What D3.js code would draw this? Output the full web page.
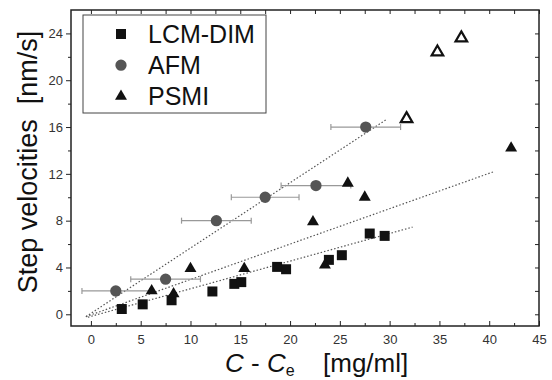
<!DOCTYPE html>
<html>
<head>
<meta charset="utf-8">
<script src="https://cdn.jsdelivr.net/npm/d3@7/dist/d3.min.js"></script>
<style>
  body { margin: 0; background: #fff; }
  svg { display: block; }
</style>
</head>
<body>
<div class="chart"></div>
<script>
// data
var lcmX = [3.1, 5.2, 8.1, 12.2, 14.4, 15.1, 18.7, 19.6, 23.9, 25.2, 28.0, 29.5],
    lcmY = [0.45, 0.85, 1.2, 1.95, 2.6, 2.75, 4.05, 3.85, 4.65, 5.05, 6.9, 6.7];

var afmX = [2.5, 7.5, 12.6, 17.5, 22.6, 27.6],
    afmY = [2, 3, 8, 10, 11, 16],
    afmErr = [3.4, 3.5, 3.5, 3.4, 3.5, 3.5];

var psmiX = [6.1, 8.3, 10.0, 15.4, 22.3, 23.5, 25.8, 27.5, 42.2],
    psmiY = [2.0, 1.75, 3.9, 3.9, 7.9, 4.2, 11.2, 10.0, 14.2];

var openX = [31.7, 34.8, 37.2],
    openY = [16.7, 22.4, 23.6];

// dotted linear fits, end points
var fitAfm = [[-0.5, -0.2], [29.6, 16.6]],
    fitPsmi = [[-0.5, -0.2], [40.5, 12.2]],
    fitLcm = [[-0.3, -0.25], [32.3, 7.45]];

var xMajor = [0, 5, 10, 15, 20, 25, 30, 35, 40, 45],
    yMajor = [0, 4, 8, 12, 16, 20, 24];

var legendNames = ["LCM-DIM", "AFM", "PSMI"];

var width = 552, height = 380,
    margin = {top: 10, right: 13, bottom: 54, left: 71},
    font = "'Liberation Sans', Arial, sans-serif";

var svg = d3.select(".chart").append("svg")
    .attr("width", width)
    .attr("height", height)
    .style("font-family", font);

var x = d3.scaleLinear().domain([-2, 45]).range([margin.left, width - margin.right]);
var y = d3.scaleLinear().domain([-1, 26]).range([height - margin.bottom, margin.top]);

var minorX = d3.range(-2.5, 45.1, 2.5).filter(function(d) { return d > -2 && xMajor.indexOf(d) < 0; });
var minorY = d3.range(-2, 26, 2).filter(function(d) { return d > -1 && yMajor.indexOf(d) < 0; });

// axes
var bottom = svg.append("g")
    .attr("transform", "translate(0," + y.range()[0] + ")")
    .call(d3.axisBottom(x).tickValues(xMajor).tickSize(-5).tickPadding(9));
svg.append("g")
    .attr("transform", "translate(0," + y.range()[0] + ")")
    .call(d3.axisBottom(x).tickValues(minorX).tickSize(-3).tickFormat(""));
svg.append("g")
    .attr("transform", "translate(0," + y.range()[1] + ")")
    .call(d3.axisTop(x).tickValues(xMajor.concat(minorX)).tickSize(-4).tickFormat(""));

var left = svg.append("g")
    .attr("transform", "translate(" + x.range()[0] + ",0)")
    .call(d3.axisLeft(y).tickValues(yMajor).tickSize(5).tickPadding(3));
svg.append("g")
    .attr("transform", "translate(" + x.range()[0] + ",0)")
    .call(d3.axisLeft(y).tickValues(minorY).tickSize(3).tickFormat(""));
svg.append("g")
    .attr("transform", "translate(" + x.range()[1] + ",0)")
    .call(d3.axisRight(y).tickValues(yMajor.concat(minorY)).tickSize(-4).tickFormat(""));

svg.selectAll(".domain").remove();
svg.selectAll(".tick line").attr("stroke", "#222").attr("stroke-width", 1);
svg.selectAll(".tick text")
    .attr("font-family", font)
    .attr("font-size", "13px")
    .attr("fill", "#333");

// frame
svg.append("rect")
    .attr("x", x.range()[0])
    .attr("y", y.range()[1])
    .attr("width", x.range()[1] - x.range()[0])
    .attr("height", y.range()[0] - y.range()[1])
    .attr("fill", "none")
    .attr("stroke", "#222")
    .attr("stroke-width", 1.5);

// fits
var line = d3.line().x(function(d) { return x(d[0]); }).y(function(d) { return y(d[1]); });
svg.append("g").selectAll("path")
    .data([fitAfm, fitPsmi, fitLcm])
    .enter()
    .append("path")
    .attr("d", line)
    .attr("fill", "none")
    .attr("stroke", "#555")
    .attr("stroke-width", 1.2)
    .attr("stroke-dasharray", "1.5,2");

// AFM error bars
var errs = svg.append("g").attr("stroke", "#999").attr("stroke-width", 1.2);
afmX.forEach(function(d, i) {
  var y0 = y(afmY[i]), x1 = x(d - afmErr[i]), x2 = x(d + afmErr[i]);
  errs.append("line").attr("x1", x1).attr("x2", x2).attr("y1", y0).attr("y2", y0);
  errs.append("line").attr("x1", x1).attr("x2", x1).attr("y1", y0 - 3).attr("y2", y0 + 3);
  errs.append("line").attr("x1", x2).attr("x2", x2).attr("y1", y0 - 3).attr("y2", y0 + 3);
});

var square = d3.symbol().type(d3.symbolSquare).size(100),
    circle = d3.symbol().type(d3.symbolCircle).size(100),
    tri = d3.symbol().type(d3.symbolTriangle).size(62),
    openTri = d3.symbol().type(d3.symbolTriangle).size(58);

function drawPoints(xs, ys, sym, fill, stroke, sw) {
  svg.append("g").selectAll("path")
    .data(xs)
    .enter()
    .append("path")
    .attr("d", sym)
    .attr("transform", function(d, i) { return "translate(" + x(d) + "," + y(ys[i]) + ")"; })
    .attr("fill", fill)
    .attr("stroke", stroke)
    .attr("stroke-width", sw);
}

drawPoints(afmX, afmY, circle, "#555", "none", 0);
drawPoints(lcmX, lcmY, square, "#111", "none", 0);
drawPoints(psmiX, psmiY, tri, "#111", "none", 0);
drawPoints(openX, openY, openTri, "#fff", "#111", 2.2);

// legend
var legend = svg.append("g");
legend.append("rect")
    .attr("x", 83).attr("y", 15)
    .attr("width", 183).attr("height", 98)
    .attr("fill", "#fff")
    .attr("stroke", "#444")
    .attr("stroke-width", 1);

var legendSyms = [square, circle, tri],
    legendFill = ["#111", "#555", "#111"];
legendNames.forEach(function(name, i) {
  var ly = 34 + i * 31.2;
  legend.append("path")
      .attr("d", legendSyms[i])
      .attr("transform", "translate(121," + ly + ")")
      .attr("fill", legendFill[i]);
  legend.append("text")
      .attr("x", 148)
      .attr("y", ly + 9)
      .attr("font-size", "25px")
      .attr("fill", "#111")
      .text(name);
});

// axis titles
svg.append("text")
    .attr("transform", "translate(37,162) rotate(-90)")
    .attr("text-anchor", "middle")
    .attr("font-size", "27px")
    .attr("fill", "#111")
    .attr("xml:space", "preserve")
    .text("Step velocities  [nm/s]");

var xt = svg.append("text")
    .attr("x", 225)
    .attr("y", 372)
    .attr("font-size", "26px")
    .attr("fill", "#111");
xt.append("tspan").attr("font-style", "italic").text("C");
xt.append("tspan").text(" - ");
xt.append("tspan").attr("font-style", "italic").text("C");
xt.append("tspan").attr("font-size", "16px").attr("dy", 4).text("e");
xt.append("tspan").attr("x", 323).attr("dy", -4).text("[mg/ml]");
</script>
</body>
</html>
